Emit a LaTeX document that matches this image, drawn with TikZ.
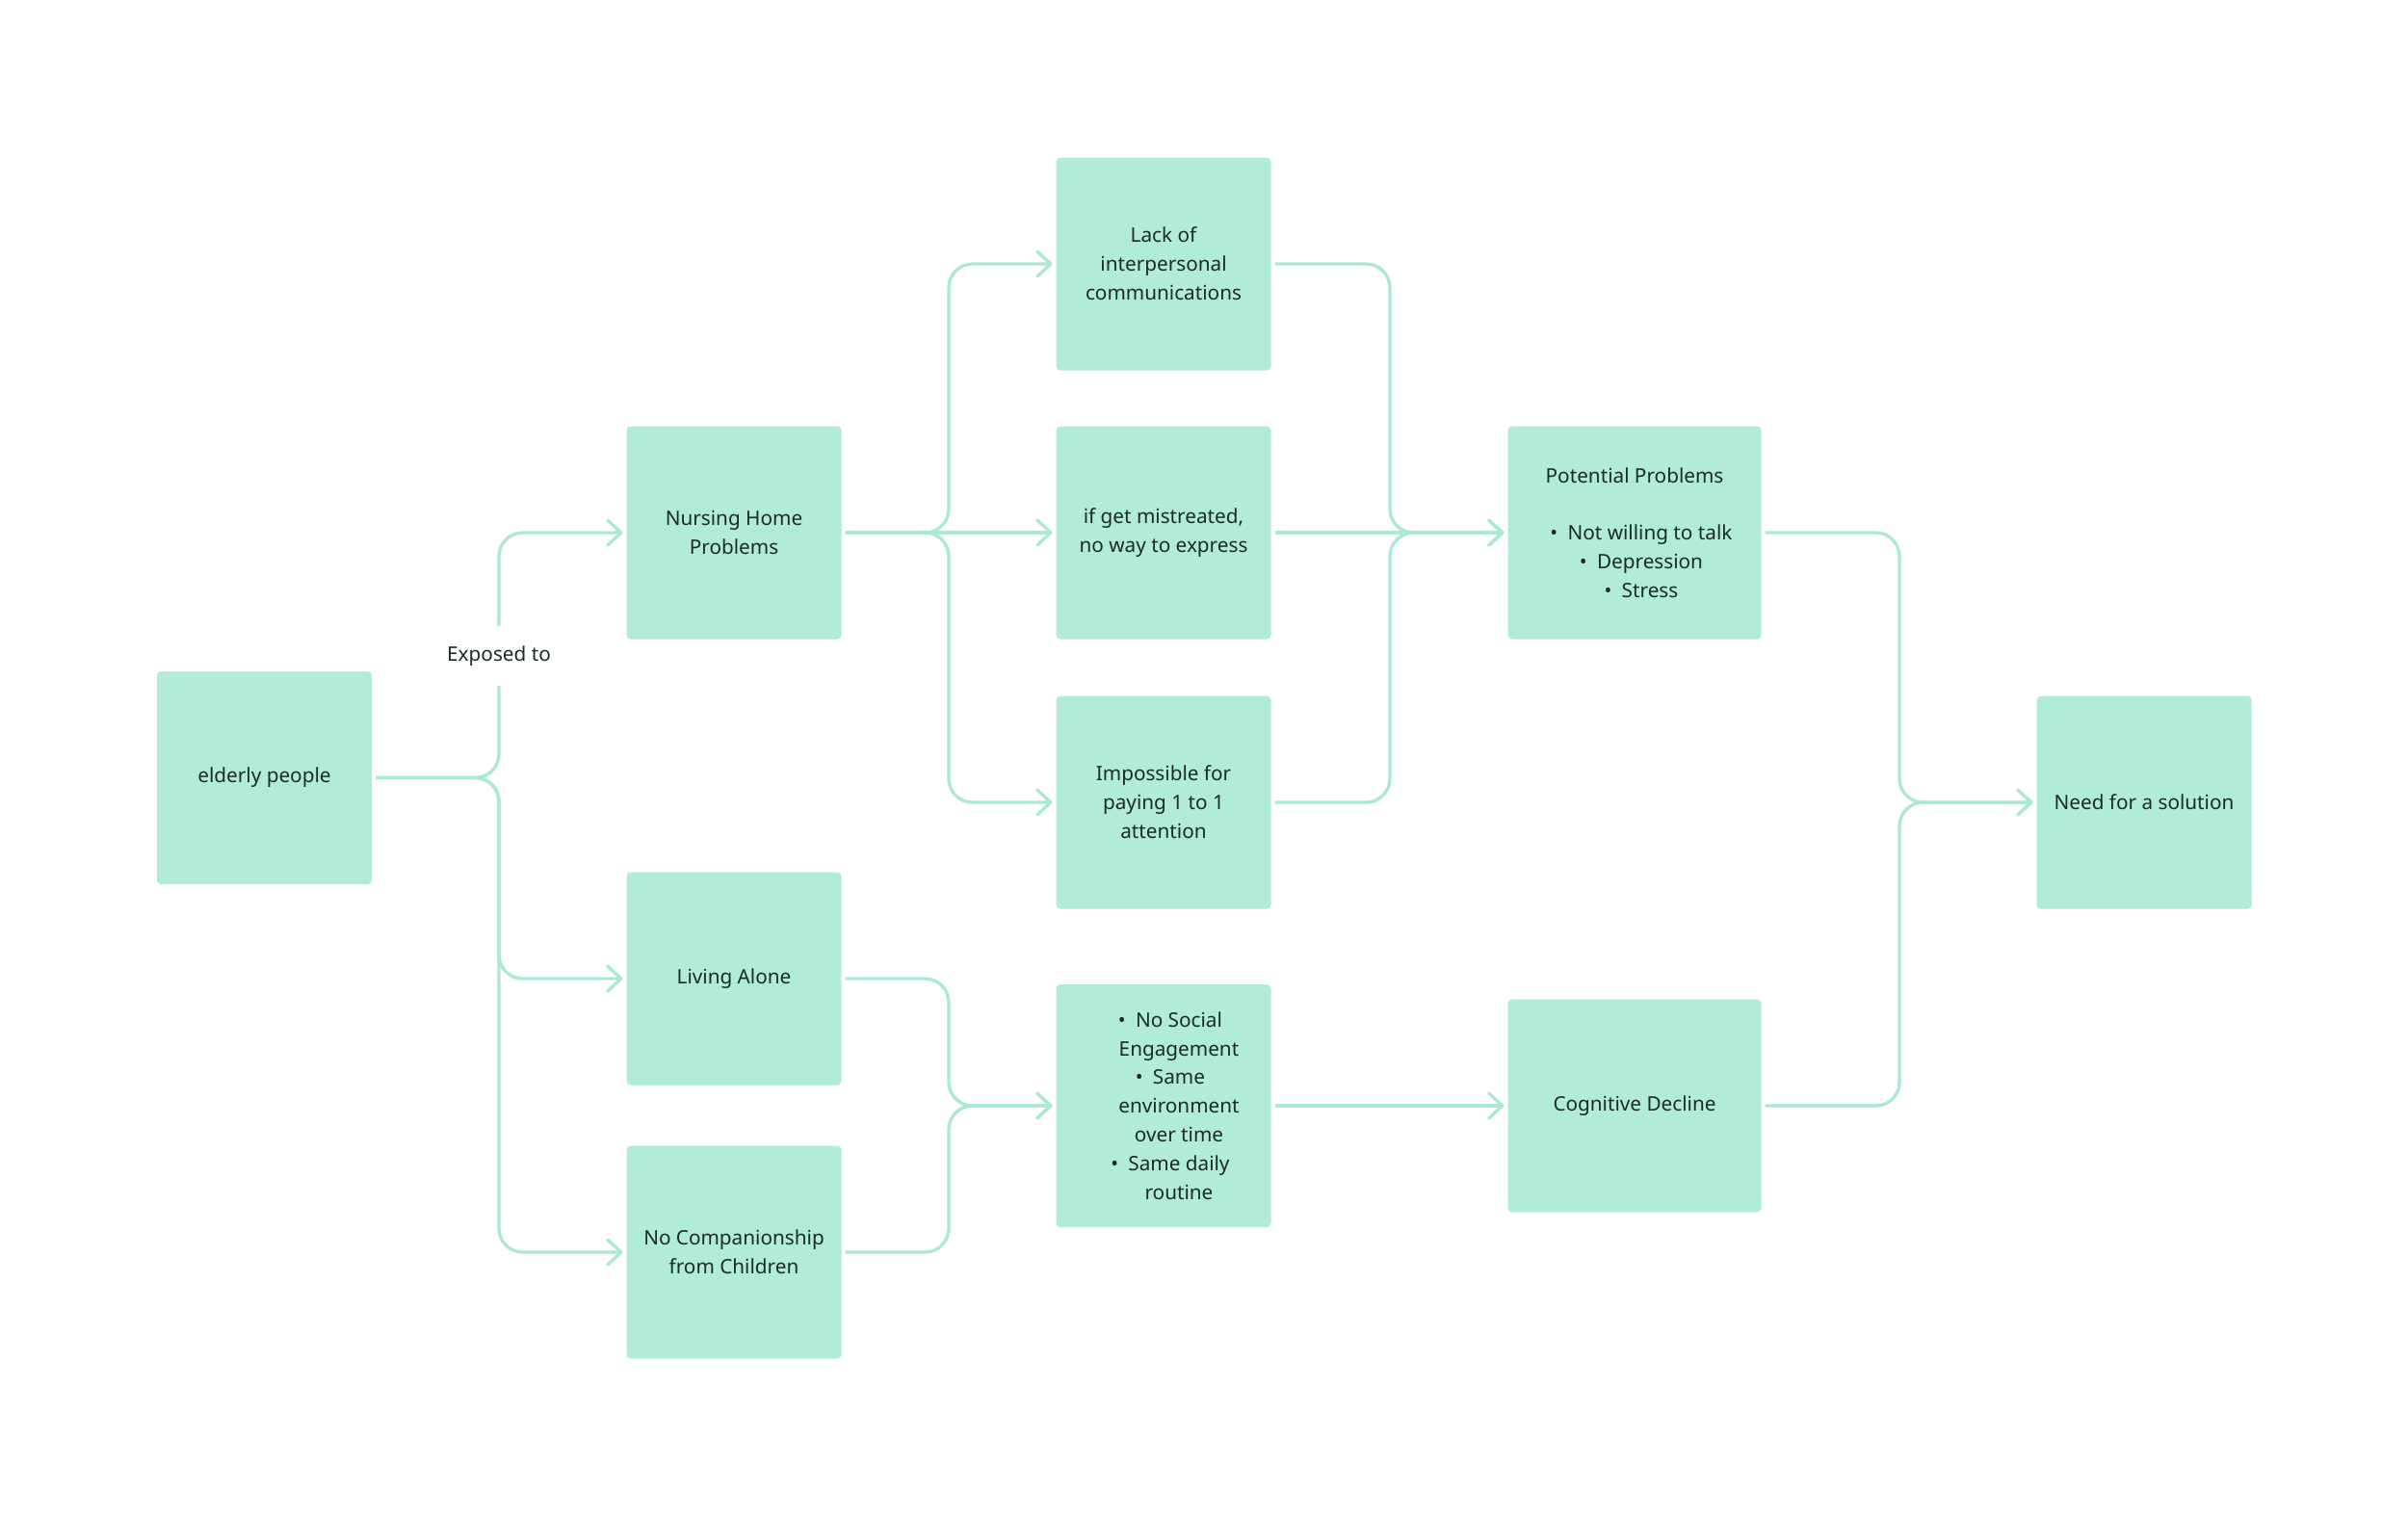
\documentclass[tikz,border=0pt]{standalone}
\usepackage{fontspec}
\setmainfont{Noto Sans}
\usepackage{tikz}
\usetikzlibrary{arrows.meta,calc}
\definecolor{mint}{HTML}{B1EBD9}
\definecolor{mintline}{HTML}{ABE8D5}
\definecolor{ink}{HTML}{1D2B25}
\newcommand{\itm}{\hspace*{0.32cm}\llap{\textbullet\enspace}}
\newcommand{\ind}{\hspace*{0.32cm}}
\tikzset{
  flow/.style={-{Straight Barb[length=1.4mm,width=2.6mm,round]},line width=0.95pt,mintline,rounded corners=7pt},
  box/.style={fill=mint,rounded corners=1.2pt,minimum width=2.23cm,minimum height=2.21cm,
    inner sep=2pt,outer sep=0.04cm,align=center,text=ink,font=\fontsize{5.9}{8.5}\selectfont},
  labeltext/.style={fill=white,inner xsep=2pt,inner ysep=6pt,text=ink,font=\fontsize{5.9}{8.5}\selectfont}
}

\begin{document}
\begin{tikzpicture}[x=1cm,y=1cm]
\useasboundingbox (0,0) rectangle (25,-15.75);
\node[box] (old) at (2.745,-8.075) {elderly people};
\node[box] (home) at (7.62,-5.53) {Nursing Home\\Problems};
\node[box] (alone) at (7.62,-10.16) {Living Alone};
\node[box] (nokids) at (7.62,-13.00) {No Companionship\\from Children};
\node[box] (lack) at (12.08,-2.74) {Lack of\\interpersonal\\communications};
\node[box] (mistreat) at (12.08,-5.53) {if get mistreated,\\no way to express};
\node[box] (attend) at (12.08,-8.33) {Impossible for\\paying 1 to 1\\attention};
\node[box,minimum height=2.52cm] (routine) at (12.08,-11.48)
  {\itm No Social\\\ind Engagement\\\itm Same\\\ind environment\\\ind over time\\\itm Same daily\\\ind routine};
\node[box,minimum width=2.63cm] (potential) at (16.97,-5.53)
  {Potential Problems\\[8.5pt]\itm Not willing to talk\\\itm Depression\\\itm Stress};
\node[box,minimum width=2.63cm] (decline) at (16.97,-11.48) {Cognitive Decline};
\node[box] (need) at (22.26,-8.33) {Need for a solution};
% split and join points
\coordinate (s1) at (5.18,-8.075);
\coordinate (s2) at (9.85,-5.53);
\coordinate (j1) at (14.43,-5.53);
\coordinate (j2) at (9.85,-11.48);
\coordinate (j3) at (19.72,-8.33);
\draw[flow] (old.east) -- (s1) |- (home.west);
\draw[flow] (old.east) -- (s1) |- (alone.west);
\draw[flow] (old.east) -- (s1) |- (nokids.west);
\node[labeltext] (exposed) at (5.18,-6.81) {Exposed to};
\draw[flow] (home.east) -- (s2) |- (lack.west);
\draw[flow] (home.east) -- (mistreat.west);
\draw[flow] (home.east) -- (s2) |- (attend.west);
\draw[flow] (lack.east) -| (j1) -- (potential.west);
\draw[flow] (mistreat.east) -- (potential.west);
\draw[flow] (attend.east) -| (j1) -- (potential.west);
\draw[flow] (alone.east) -| (j2) -- (routine.west);
\draw[flow] (nokids.east) -| (j2) -- (routine.west);
\draw[flow] (routine.east) -- (decline.west);
\draw[flow] (potential.east) -| (j3) -- (need.west);
\draw[flow] (decline.east) -| (j3) -- (need.west);
\end{tikzpicture}
\end{document}
